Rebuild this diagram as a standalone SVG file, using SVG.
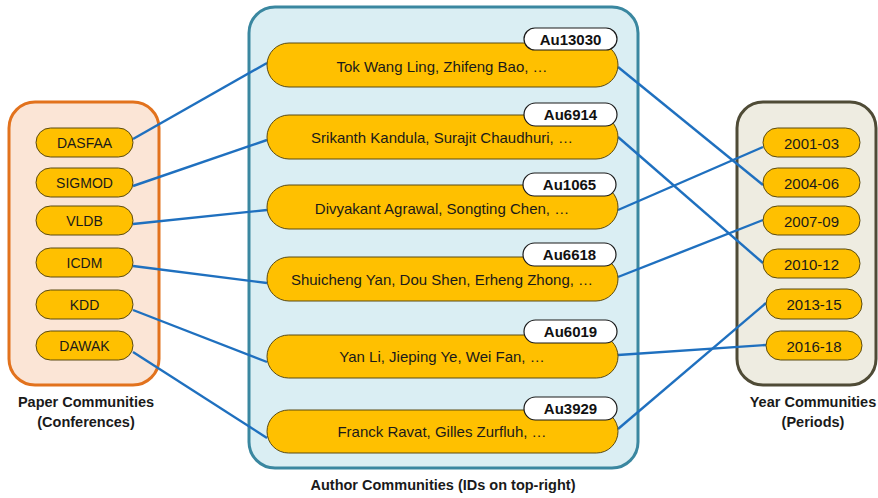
<svg xmlns="http://www.w3.org/2000/svg" width="878" height="498" viewBox="0 0 878 498">
<style>
.pill{fill:#ffc000;stroke:#5a4a10;stroke-width:1}
.badge{fill:#ffffff;stroke:#1a1a1a;stroke-width:1.2}
.t{font-family:"Liberation Sans",Arial,sans-serif;font-size:14px;fill:#1a1a1a;text-anchor:middle;dominant-baseline:central}
.ty{font-size:15px}
.ta{font-size:15px}
.b{font-family:"Liberation Sans",Arial,sans-serif;font-weight:bold;font-size:14.5px;fill:#1a1a1a;text-anchor:middle}
.bb{font-family:"Liberation Sans",Arial,sans-serif;font-weight:bold;font-size:15px;fill:#111;text-anchor:middle;dominant-baseline:central}
.c{stroke:#1f70bf;stroke-width:2.4;fill:none}
</style>
<rect width="878" height="498" fill="#ffffff"/>
<g id="paper-container">
<rect x="9" y="102" width="150" height="283" rx="26" fill="#fbe5d6" stroke="#e2721d" stroke-width="3"/>
<text class="b" x="86" y="407">Paper Communities</text>
<text class="b" x="86" y="427">(Conferences)</text>
</g>
<g id="author-container">
<rect x="249" y="7" width="389" height="461" rx="26" fill="#daeef3" stroke="#3a87a0" stroke-width="3"/>
<text class="b" x="443" y="490">Author Communities (IDs on top-right)</text>
</g>
<g id="year-container">
<rect x="737" y="102" width="139" height="283" rx="26" fill="#eeece1" stroke="#4f4b36" stroke-width="3"/>
<text class="b" x="813" y="407">Year Communities</text>
<text class="b" x="813" y="427">(Periods)</text>
</g>
<g id="connectors">
<line class="c" x1="133" y1="139" x2="267" y2="63"/>
<line class="c" x1="133" y1="186" x2="267" y2="140"/>
<line class="c" x1="133" y1="224" x2="267" y2="210"/>
<line class="c" x1="133" y1="266" x2="267" y2="283"/>
<line class="c" x1="133" y1="310" x2="267" y2="362"/>
<line class="c" x1="133" y1="352" x2="267" y2="438"/>
<line class="c" x1="618" y1="67" x2="763" y2="185"/>
<line class="c" x1="618" y1="137" x2="763" y2="263"/>
<line class="c" x1="618" y1="210" x2="763" y2="147"/>
<line class="c" x1="618" y1="277" x2="763" y2="220"/>
<line class="c" x1="618" y1="355" x2="766" y2="345"/>
<line class="c" x1="618" y1="429" x2="766" y2="303"/>
</g>
<g id="p-dasfaa"><rect class="pill" x="36" y="128" width="97" height="29" rx="14.5"/><text class="t" x="84.5" y="143">DASFAA</text></g>
<g id="p-sigmod"><rect class="pill" x="36" y="168" width="97" height="29" rx="14.5"/><text class="t" x="84.5" y="183">SIGMOD</text></g>
<g id="p-vldb"><rect class="pill" x="36" y="206" width="97" height="29" rx="14.5"/><text class="t" x="84.5" y="221">VLDB</text></g>
<g id="p-icdm"><rect class="pill" x="36" y="248" width="97" height="29" rx="14.5"/><text class="t" x="84.5" y="263">ICDM</text></g>
<g id="p-kdd"><rect class="pill" x="36" y="290" width="97" height="29" rx="14.5"/><text class="t" x="84.5" y="305">KDD</text></g>
<g id="p-dawak"><rect class="pill" x="36" y="331" width="97" height="29" rx="14.5"/><text class="t" x="84.5" y="346">DAWAK</text></g>
<g id="a-au13030"><rect class="pill" x="267" y="43" width="351" height="44" rx="22"/><text class="t ta" x="442" y="66">Tok Wang Ling, Zhifeng Bao, …</text><rect class="badge" x="524" y="28" width="93" height="22" rx="11"/><text class="bb" x="570.5" y="39">Au13030</text></g>
<g id="a-au6914"><rect class="pill" x="267" y="115" width="351" height="44" rx="22"/><text class="t ta" x="442" y="137">Srikanth Kandula, Surajit Chaudhuri, …</text><rect class="badge" x="524" y="103" width="93" height="23" rx="11.5"/><text class="bb" x="570.5" y="114.5">Au6914</text></g>
<g id="a-au1065"><rect class="pill" x="267" y="185" width="351" height="44" rx="22"/><text class="t ta" x="442" y="208">Divyakant Agrawal, Songting Chen, …</text><rect class="badge" x="523" y="173" width="93" height="23" rx="11.5"/><text class="bb" x="569.5" y="184.5">Au1065</text></g>
<g id="a-au6618"><rect class="pill" x="267" y="257" width="351" height="44" rx="22"/><text class="t ta" x="442" y="279">Shuicheng Yan, Dou Shen, Erheng Zhong, …</text><rect class="badge" x="523" y="243" width="93" height="23" rx="11.5"/><text class="bb" x="569.5" y="254.5">Au6618</text></g>
<g id="a-au6019"><rect class="pill" x="267" y="335" width="351" height="43" rx="21.5"/><text class="t ta" x="442" y="356">Yan Li, Jieping Ye, Wei Fan, …</text><rect class="badge" x="524" y="320" width="93" height="23" rx="11.5"/><text class="bb" x="570.5" y="331.5">Au6019</text></g>
<g id="a-au3929"><rect class="pill" x="267" y="410" width="351" height="43" rx="21.5"/><text class="t ta" x="442" y="431">Franck Ravat, Gilles Zurfluh, …</text><rect class="badge" x="524" y="397" width="93" height="23" rx="11.5"/><text class="bb" x="570.5" y="408.5">Au3929</text></g>
<g id="y-2001-03"><rect class="pill" x="763" y="128" width="97" height="29" rx="14.5"/><text class="t ty" x="811.5" y="143">2001-03</text></g>
<g id="y-2004-06"><rect class="pill" x="763" y="168" width="97" height="29" rx="14.5"/><text class="t ty" x="811.5" y="183">2004-06</text></g>
<g id="y-2007-09"><rect class="pill" x="763" y="206" width="97" height="29" rx="14.5"/><text class="t ty" x="811.5" y="221">2007-09</text></g>
<g id="y-2010-12"><rect class="pill" x="763" y="249" width="97" height="29" rx="14.5"/><text class="t ty" x="811.5" y="264">2010-12</text></g>
<g id="y-2013-15"><rect class="pill" x="766" y="289" width="96" height="30" rx="15"/><text class="t ty" x="814" y="304">2013-15</text></g>
<g id="y-2016-18"><rect class="pill" x="766" y="331" width="96" height="29" rx="14.5"/><text class="t ty" x="814" y="346">2016-18</text></g>
</svg>
